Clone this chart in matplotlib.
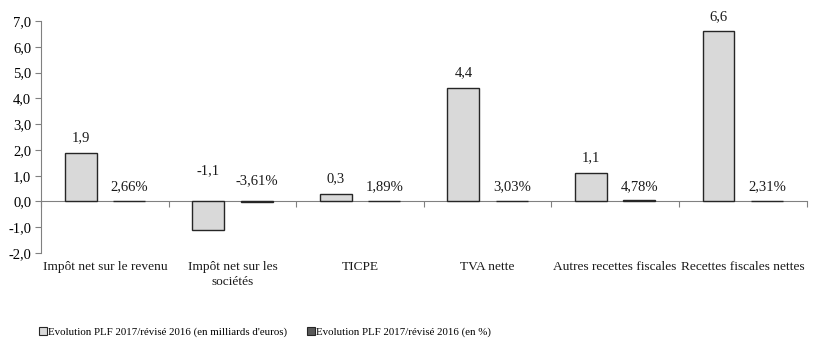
import matplotlib
matplotlib.use('agg')
import matplotlib.pyplot as plt
import numpy as np

categories = ["Impôt net sur le revenu", "Impôt net sur les\nsociétés", "TICPE",
              "TVA nette", "Autres recettes fiscales", "Recettes fiscales nettes"]
evol_mds = [1.9, -1.1, 0.3, 4.4, 1.1, 6.6]
evol_pct = [2.66, -3.61, 1.89, 3.03, 4.78, 2.31]
series_names = ["Evolution PLF 2017/révisé 2016 (en milliards d'euros)",
                "Evolution PLF 2017/révisé 2016 (en %)"]
yticks = np.arange(-2, 8, 1)

plt.rcParams['font.family'] = ['Liberation Serif', 'DejaVu Serif']

fig = plt.figure(figsize=(8.24, 3.64), dpi=100)
ax = fig.add_axes([0.0498, 0.305, 0.929, 0.637])

x = np.arange(len(categories))
w = 0.25
off = 0.19
ax.bar(x - off, evol_mds, w, color='#d9d9d9', edgecolor='#262626', linewidth=1.0, zorder=3)
# percentages are plotted as fractions on the same axis (as in the source)
ax.bar(x + off, np.array(evol_pct) / 100, w, color='#595959', edgecolor='#262626', linewidth=1.0, zorder=3)

def fmt(v, pct=False):
    s = ("%.2f" % v) if pct else ("%.1f" % v)
    s = s.replace('.', ',')
    return s + ('%' if pct else '')

for i in range(len(categories)):
    v = evol_mds[i]
    dy = 15 if v >= 0 else 31
    ax.annotate(fmt(v), xy=(x[i] - off, max(v, 0)), xytext=(0, dy), textcoords='offset pixels',
                ha='center', va='center', fontsize=10.5, color='#1a1a1a')
    p = evol_pct[i]
    dy = 14 if p >= 0 else 21
    ax.annotate(fmt(p, True), xy=(x[i] + off, max(p / 100, 0)), xytext=(0, dy), textcoords='offset pixels',
                ha='center', va='center', fontsize=10.5, color='#1a1a1a')

ax.set_xlim(-0.5, len(categories) - 0.5)
ax.set_ylim(-2, 7)
ax.set_yticks(yticks)
ax.set_yticklabels([("%.1f" % t).replace('.', ',') for t in yticks], fontsize=10.5)
ax.set_xticks(np.arange(-0.5, len(categories), 1))
ax.set_xticklabels([])
ax.tick_params(axis='y', direction='out', length=4, color='#808080', pad=3)
ax.tick_params(axis='x', direction='out', length=4, color='#808080')

for s in ['top', 'right']:
    ax.spines[s].set_visible(False)
ax.spines['left'].set_color('#808080')
ax.spines['bottom'].set_color('#808080')
ax.spines['bottom'].set_position(('data', 0))

for i, c in enumerate(categories):
    ax.annotate(c, xy=(x[i], -2), xytext=(0, -8), textcoords='offset pixels',
                ha='center', va='top', fontsize=9.6, color='#1a1a1a', linespacing=1.35)

h1 = plt.Rectangle((0, 0), 1, 1, facecolor='#d9d9d9', edgecolor='#262626', linewidth=0.8)
h2 = plt.Rectangle((0, 0), 1, 1, facecolor='#595959', edgecolor='#262626', linewidth=0.8)
fig.legend([h1], [series_names[0]], loc='center left', bbox_to_anchor=(0.047, 0.088),
           frameon=False, fontsize=7.8, handlelength=0.75, handleheight=0.75, handletextpad=0.15,
           borderpad=0, borderaxespad=0)
fig.legend([h2], [series_names[1]], loc='center left', bbox_to_anchor=(0.372, 0.088),
           frameon=False, fontsize=7.8, handlelength=0.75, handleheight=0.75, handletextpad=0.15,
           borderpad=0, borderaxespad=0)

fig.savefig('out.png', dpi=100)
